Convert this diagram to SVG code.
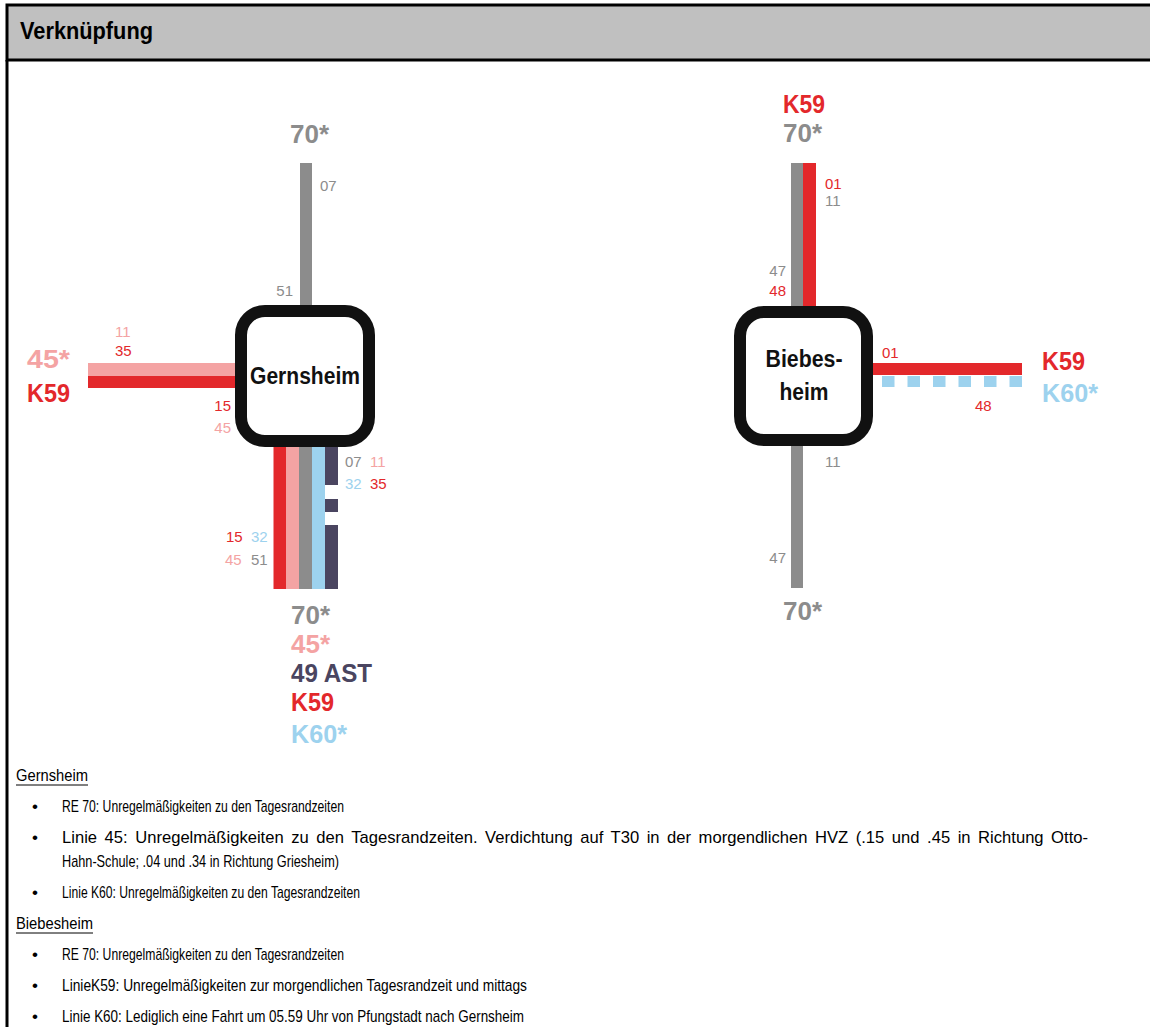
<svg xmlns="http://www.w3.org/2000/svg" width="1150" height="1027" viewBox="0 0 1150 1027">
<style>
.hdr{font-family:"Liberation Sans",Arial,sans-serif;font-weight:bold;font-size:24px;fill:#000}
.big{font-family:"Liberation Sans",Arial,sans-serif;font-weight:bold;font-size:26px}
.num{font-family:"Liberation Sans",Arial,sans-serif;font-size:15px}
.stn{font-family:"Liberation Sans",Arial,sans-serif;font-weight:bold;font-size:23px;fill:#111;text-anchor:middle}
.txt{font-family:"Liberation Sans",Arial,sans-serif;font-size:17px;fill:#000}
.end{text-anchor:end}
.gray{fill:#8c8c8c}.red{fill:#e3282b}.pink{fill:#f4a3a3}.blue{fill:#9dd2ee}.navy{fill:#4a4560}
.box{fill:#fff;stroke:#111;stroke-width:12}
</style>
<g id="frame">
<rect x="7" y="5" width="1160" height="55" fill="#c0c0c0" stroke="#000" stroke-width="3"/>
<line x1="7" y1="60" x2="7" y2="1030" stroke="#000" stroke-width="3"/>
<text class="hdr" x="20" y="39" textLength="133" lengthAdjust="spacingAndGlyphs">Verknüpfung</text>
</g>
<g id="connectors">
<rect class="gray" x="300" y="163" width="12" height="150"/>
<rect class="pink" x="88" y="363" width="155" height="13"/>
<rect class="red" x="88" y="376" width="155" height="12"/>
<rect class="red" x="273.5" y="440" width="12.5" height="149"/>
<rect class="pink" x="286" y="440" width="13" height="149"/>
<rect class="gray" x="299" y="440" width="13" height="149"/>
<rect class="blue" x="312" y="440" width="13" height="149"/>
<rect class="navy" x="325" y="440" width="13" height="45"/>
<rect class="navy" x="325" y="499" width="13" height="13"/>
<rect class="navy" x="325" y="525" width="13" height="64"/>
<rect class="gray" x="791" y="163" width="12" height="150"/>
<rect class="red" x="803" y="163" width="13" height="150"/>
<rect class="red" x="866" y="363" width="156" height="12"/>
<rect class="blue" x="882" y="376" width="12.5" height="11"/>
<rect class="blue" x="907.5" y="376" width="12.5" height="11"/>
<rect class="blue" x="933" y="376" width="12.5" height="11"/>
<rect class="blue" x="958.5" y="376" width="12.5" height="11"/>
<rect class="blue" x="984" y="376" width="12.5" height="11"/>
<rect class="blue" x="1009.5" y="376" width="12.5" height="11"/>
<rect class="gray" x="791" y="439" width="12" height="149"/>
</g>
<g id="node-gernsheim">
<rect class="box" x="241" y="311" width="128" height="130" rx="24"/>
<text class="stn" x="305" y="384" textLength="110" lengthAdjust="spacingAndGlyphs">Gernsheim</text>
</g>
<g id="node-biebesheim">
<rect class="box" x="740" y="312" width="127" height="128" rx="24"/>
<text class="stn" x="804" y="367" textLength="77" lengthAdjust="spacingAndGlyphs">Biebes-</text>
<text class="stn" x="804" y="400" textLength="49" lengthAdjust="spacingAndGlyphs">heim</text>
</g>
<g id="labels-gernsheim">
<text class="big gray" x="290" y="143">70*</text>
<text class="num gray" x="320" y="191">07</text>
<text class="num gray end" x="293" y="296">51</text>
<text class="big pink" x="27" y="368" textLength="43" lengthAdjust="spacingAndGlyphs">45*</text>
<text class="big red" x="27" y="402" textLength="43" lengthAdjust="spacingAndGlyphs">K59</text>
<text class="num pink" x="115" y="337">11</text>
<text class="num red" x="115" y="356">35</text>
<text class="num red end" x="231" y="411">15</text>
<text class="num pink end" x="231" y="433">45</text>
<text class="num gray" x="345" y="467">07</text>
<text class="num pink" x="370" y="467">11</text>
<text class="num blue" x="345" y="489">32</text>
<text class="num red" x="370" y="489">35</text>
<text class="num red" x="226" y="542">15</text>
<text class="num blue" x="251" y="542">32</text>
<text class="num pink" x="225" y="565">45</text>
<text class="num gray" x="251" y="565">51</text>
<text class="big gray" x="291" y="624">70*</text>
<text class="big pink" x="291" y="653">45*</text>
<text class="big navy" x="291" y="682" textLength="81" lengthAdjust="spacingAndGlyphs">49 AST</text>
<text class="big red" x="291" y="711" textLength="43" lengthAdjust="spacingAndGlyphs">K59</text>
<text class="big blue" x="291" y="743" textLength="56" lengthAdjust="spacingAndGlyphs">K60*</text>
</g>
<g id="labels-biebesheim">
<text class="big red" x="783" y="113" textLength="42" lengthAdjust="spacingAndGlyphs">K59</text>
<text class="big gray" x="783" y="142">70*</text>
<text class="num red" x="825" y="189">01</text>
<text class="num gray" x="825" y="206">11</text>
<text class="num gray end" x="786" y="276">47</text>
<text class="num red end" x="786" y="296">48</text>
<text class="num red" x="882" y="358">01</text>
<text class="num red" x="975" y="411">48</text>
<text class="big red" x="1042" y="370" textLength="43" lengthAdjust="spacingAndGlyphs">K59</text>
<text class="big blue" x="1042" y="402" textLength="56" lengthAdjust="spacingAndGlyphs">K60*</text>
<text class="num gray" x="825" y="467">11</text>
<text class="num gray end" x="786" y="563">47</text>
<text class="big gray" x="783" y="620">70*</text>
</g>
<g id="notes">
<text class="txt" x="16" y="781" textLength="72" lengthAdjust="spacingAndGlyphs">Gernsheim</text>
<line x1="16" y1="785" x2="88" y2="785" stroke="#000" stroke-width="1"/>
<text class="txt" x="32" y="812">•</text>
<text class="txt" x="62" y="812" textLength="282" lengthAdjust="spacingAndGlyphs">RE 70: Unregelmäßigkeiten zu den Tagesrandzeiten</text>
<text class="txt" x="32" y="843">•</text>
<text class="txt" x="62" y="843" font-size="16" word-spacing="3" textLength="1026" lengthAdjust="spacingAndGlyphs">Linie 45: Unregelmäßigkeiten zu den Tagesrandzeiten. Verdichtung auf T30 in der morgendlichen HVZ (.15 und .45 in Richtung Otto-</text>
<text class="txt" x="62" y="867" textLength="277" lengthAdjust="spacingAndGlyphs">Hahn-Schule; .04 und .34 in Richtung Griesheim)</text>
<text class="txt" x="32" y="898">•</text>
<text class="txt" x="62" y="898" textLength="298" lengthAdjust="spacingAndGlyphs">Linie K60: Unregelmäßigkeiten zu den Tagesrandzeiten</text>
<text class="txt" x="16" y="929" textLength="77" lengthAdjust="spacingAndGlyphs">Biebesheim</text>
<line x1="16" y1="933" x2="93" y2="933" stroke="#000" stroke-width="1"/>
<text class="txt" x="32" y="960">•</text>
<text class="txt" x="62" y="960" textLength="282" lengthAdjust="spacingAndGlyphs">RE 70: Unregelmäßigkeiten zu den Tagesrandzeiten</text>
<text class="txt" x="32" y="991">•</text>
<text class="txt" x="62" y="991" textLength="465" lengthAdjust="spacingAndGlyphs">LinieK59: Unregelmäßigkeiten zur morgendlichen Tagesrandzeit und mittags</text>
<text class="txt" x="32" y="1022">•</text>
<text class="txt" x="62" y="1022" textLength="462" lengthAdjust="spacingAndGlyphs">Linie K60: Lediglich eine Fahrt um 05.59 Uhr von Pfungstadt nach Gernsheim</text>
</g>
</svg>
